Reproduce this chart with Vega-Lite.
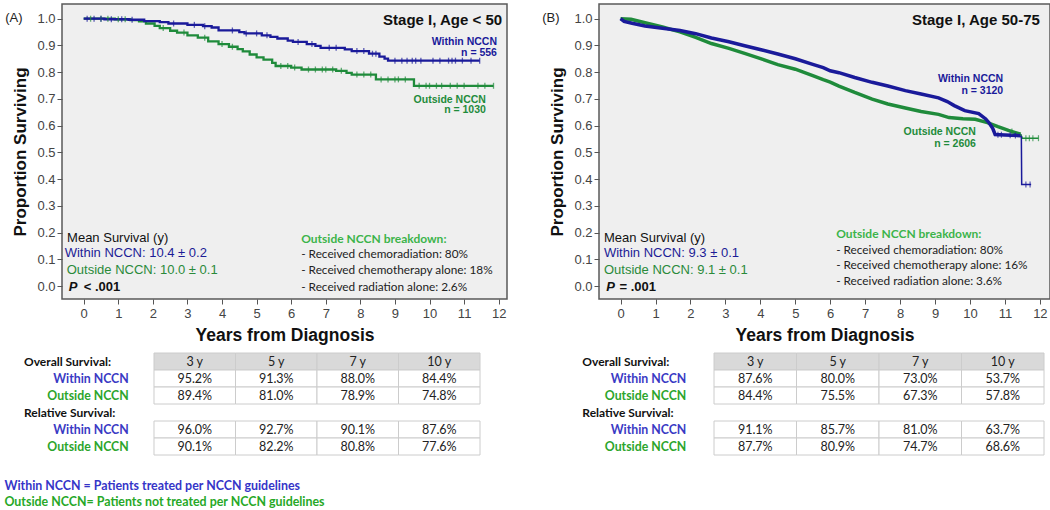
{
"$schema":"https://vega.github.io/schema/vega-lite/v6.json",
"padding":{"left":4,"top":3,"right":0,"bottom":2},
"background":"#ffffff",
"columns":2,
"bounds":"flush",
"spacing":{"row":54,"column":92},
"resolve":{"scale":{"x":"independent","y":"independent","color":"independent"}},
"title":{"text":"Within NCCN  = Patients treated per NCCN guidelines","subtitle":"Outside NCCN= Patients not treated per NCCN guidelines","orient":"bottom","anchor":"start","frame":"bounds","offset":24,"font":"Lato","fontSize":12.4,"fontWeight":"bold","color":"#3535c8","subtitleFont":"Lato","subtitleFontSize":12.4,"subtitleFontWeight":"bold","subtitleColor":"#27a827","subtitlePadding":4},
"config":{
 "view":{"stroke":null},
 "text":{"font":"Liberation Sans"},
 "axis":{"grid":false,"domain":false,"labelOverlap":false,"labelFlush":false,"labelFont":"Liberation Sans","labelFontSize":13,"labelColor":"#444444","tickColor":"#555555","tickSize":5,"titleFont":"Liberation Sans","titleFontWeight":"bold","titleColor":"#111111"},
 "axisX":{"labelPadding":3,"titlePadding":6,"titleFontSize":17.5},
 "axisY":{"labelPadding":2,"titlePadding":7,"titleFontSize":17}
},
"datasets":{
 "kmA":[
  {"g":"Outside NCCN","t":0,"s":1.0},{"g":"Outside NCCN","t":0.9,"s":0.998},{"g":"Outside NCCN","t":1.35,"s":0.995},{"g":"Outside NCCN","t":1.6,"s":0.99},{"g":"Outside NCCN","t":1.8,"s":0.982},{"g":"Outside NCCN","t":2.05,"s":0.973},{"g":"Outside NCCN","t":2.2,"s":0.965},{"g":"Outside NCCN","t":2.5,"s":0.955},{"g":"Outside NCCN","t":2.7,"s":0.948},{"g":"Outside NCCN","t":3.0,"s":0.938},{"g":"Outside NCCN","t":3.3,"s":0.929},{"g":"Outside NCCN","t":3.6,"s":0.915},{"g":"Outside NCCN","t":3.9,"s":0.905},{"g":"Outside NCCN","t":4.2,"s":0.895},{"g":"Outside NCCN","t":4.45,"s":0.886},{"g":"Outside NCCN","t":4.6,"s":0.878},{"g":"Outside NCCN","t":4.8,"s":0.866},{"g":"Outside NCCN","t":5.0,"s":0.855},{"g":"Outside NCCN","t":5.2,"s":0.847},{"g":"Outside NCCN","t":5.45,"s":0.835},{"g":"Outside NCCN","t":5.55,"s":0.823},{"g":"Outside NCCN","t":6.0,"s":0.817},{"g":"Outside NCCN","t":6.3,"s":0.81},{"g":"Outside NCCN","t":7.3,"s":0.805},{"g":"Outside NCCN","t":7.6,"s":0.797},{"g":"Outside NCCN","t":7.75,"s":0.791},{"g":"Outside NCCN","t":8.45,"s":0.773},{"g":"Outside NCCN","t":9.55,"s":0.749},{"g":"Outside NCCN","t":11.85,"s":0.749},
  {"g":"Within NCCN","t":0,"s":1.0},{"g":"Within NCCN","t":0.6,"s":0.998},{"g":"Within NCCN","t":1.3,"s":0.996},{"g":"Within NCCN","t":1.75,"s":0.991},{"g":"Within NCCN","t":2.2,"s":0.987},{"g":"Within NCCN","t":2.45,"s":0.982},{"g":"Within NCCN","t":3.0,"s":0.977},{"g":"Within NCCN","t":3.45,"s":0.972},{"g":"Within NCCN","t":3.7,"s":0.967},{"g":"Within NCCN","t":3.9,"s":0.956},{"g":"Within NCCN","t":4.5,"s":0.95},{"g":"Within NCCN","t":4.65,"s":0.945},{"g":"Within NCCN","t":5.15,"s":0.938},{"g":"Within NCCN","t":5.4,"s":0.932},{"g":"Within NCCN","t":5.6,"s":0.926},{"g":"Within NCCN","t":5.9,"s":0.918},{"g":"Within NCCN","t":6.05,"s":0.913},{"g":"Within NCCN","t":6.45,"s":0.905},{"g":"Within NCCN","t":6.7,"s":0.898},{"g":"Within NCCN","t":6.85,"s":0.891},{"g":"Within NCCN","t":7.55,"s":0.885},{"g":"Within NCCN","t":7.75,"s":0.879},{"g":"Within NCCN","t":8.25,"s":0.869},{"g":"Within NCCN","t":8.55,"s":0.858},{"g":"Within NCCN","t":8.7,"s":0.851},{"g":"Within NCCN","t":8.8,"s":0.843},{"g":"Within NCCN","t":11.45,"s":0.843}
 ],
 "cenA":[
  {"g":"Outside NCCN","t":0.2,"s":1.0},{"g":"Outside NCCN","t":0.5,"s":1.0},{"g":"Outside NCCN","t":0.7,"s":1.0},{"g":"Outside NCCN","t":1.0,"s":0.998},{"g":"Outside NCCN","t":1.2,"s":0.998},{"g":"Outside NCCN","t":2.3,"s":0.965},{"g":"Outside NCCN","t":2.9,"s":0.948},{"g":"Outside NCCN","t":3.5,"s":0.929},{"g":"Outside NCCN","t":4.0,"s":0.905},{"g":"Outside NCCN","t":4.3,"s":0.895},{"g":"Outside NCCN","t":5.7,"s":0.823},{"g":"Outside NCCN","t":5.9,"s":0.823},{"g":"Outside NCCN","t":6.1,"s":0.817},{"g":"Outside NCCN","t":6.5,"s":0.81},{"g":"Outside NCCN","t":6.7,"s":0.81},{"g":"Outside NCCN","t":6.9,"s":0.81},{"g":"Outside NCCN","t":7.0,"s":0.81},{"g":"Outside NCCN","t":7.2,"s":0.81},{"g":"Outside NCCN","t":7.45,"s":0.805},{"g":"Outside NCCN","t":7.9,"s":0.791},{"g":"Outside NCCN","t":8.1,"s":0.791},{"g":"Outside NCCN","t":8.3,"s":0.791},{"g":"Outside NCCN","t":8.6,"s":0.773},{"g":"Outside NCCN","t":8.8,"s":0.773},{"g":"Outside NCCN","t":9.0,"s":0.773},{"g":"Outside NCCN","t":9.1,"s":0.773},{"g":"Outside NCCN","t":9.3,"s":0.773},{"g":"Outside NCCN","t":9.7,"s":0.749},{"g":"Outside NCCN","t":9.9,"s":0.749},{"g":"Outside NCCN","t":10.0,"s":0.749},{"g":"Outside NCCN","t":10.2,"s":0.749},{"g":"Outside NCCN","t":10.35,"s":0.749},{"g":"Outside NCCN","t":10.6,"s":0.749},{"g":"Outside NCCN","t":10.8,"s":0.749},{"g":"Outside NCCN","t":11.0,"s":0.749},{"g":"Outside NCCN","t":11.4,"s":0.749},{"g":"Outside NCCN","t":11.6,"s":0.749},{"g":"Outside NCCN","t":11.85,"s":0.749},
  {"g":"Within NCCN","t":0.1,"s":1.0},{"g":"Within NCCN","t":0.3,"s":1.0},{"g":"Within NCCN","t":0.5,"s":1.0},{"g":"Within NCCN","t":0.8,"s":0.998},{"g":"Within NCCN","t":1.1,"s":0.998},{"g":"Within NCCN","t":1.4,"s":0.996},{"g":"Within NCCN","t":2.6,"s":0.982},{"g":"Within NCCN","t":3.2,"s":0.977},{"g":"Within NCCN","t":3.5,"s":0.972},{"g":"Within NCCN","t":4.3,"s":0.956},{"g":"Within NCCN","t":4.7,"s":0.945},{"g":"Within NCCN","t":5.0,"s":0.945},{"g":"Within NCCN","t":5.3,"s":0.938},{"g":"Within NCCN","t":6.2,"s":0.913},{"g":"Within NCCN","t":6.6,"s":0.905},{"g":"Within NCCN","t":7.1,"s":0.891},{"g":"Within NCCN","t":7.3,"s":0.891},{"g":"Within NCCN","t":7.9,"s":0.879},{"g":"Within NCCN","t":8.1,"s":0.879},{"g":"Within NCCN","t":8.35,"s":0.869},{"g":"Within NCCN","t":8.45,"s":0.869},{"g":"Within NCCN","t":9.0,"s":0.843},{"g":"Within NCCN","t":9.2,"s":0.843},{"g":"Within NCCN","t":9.35,"s":0.843},{"g":"Within NCCN","t":9.5,"s":0.843},{"g":"Within NCCN","t":9.6,"s":0.843},{"g":"Within NCCN","t":9.75,"s":0.843},{"g":"Within NCCN","t":10.1,"s":0.843},{"g":"Within NCCN","t":10.3,"s":0.843},{"g":"Within NCCN","t":10.55,"s":0.843},{"g":"Within NCCN","t":10.65,"s":0.843},{"g":"Within NCCN","t":10.75,"s":0.843},{"g":"Within NCCN","t":10.95,"s":0.843},{"g":"Within NCCN","t":11.2,"s":0.843},{"g":"Within NCCN","t":11.45,"s":0.843}
 ],
 "kmB":[
  {"g":"Outside NCCN","t":0,"s":1.0},{"g":"Outside NCCN","t":0.3,"s":0.998},{"g":"Outside NCCN","t":0.7,"s":0.985},{"g":"Outside NCCN","t":1.2,"s":0.969},{"g":"Outside NCCN","t":1.7,"s":0.951},{"g":"Outside NCCN","t":2.15,"s":0.93},{"g":"Outside NCCN","t":2.6,"s":0.907},{"g":"Outside NCCN","t":3.1,"s":0.889},{"g":"Outside NCCN","t":3.55,"s":0.87},{"g":"Outside NCCN","t":4.05,"s":0.849},{"g":"Outside NCCN","t":4.5,"s":0.828},{"g":"Outside NCCN","t":5.0,"s":0.811},{"g":"Outside NCCN","t":5.5,"s":0.787},{"g":"Outside NCCN","t":5.8,"s":0.772},{"g":"Outside NCCN","t":6.0,"s":0.763},{"g":"Outside NCCN","t":6.25,"s":0.748},{"g":"Outside NCCN","t":6.7,"s":0.724},{"g":"Outside NCCN","t":7.2,"s":0.699},{"g":"Outside NCCN","t":7.65,"s":0.681},{"g":"Outside NCCN","t":8.15,"s":0.666},{"g":"Outside NCCN","t":8.6,"s":0.653},{"g":"Outside NCCN","t":9.1,"s":0.642},{"g":"Outside NCCN","t":9.4,"s":0.63},{"g":"Outside NCCN","t":9.8,"s":0.626},{"g":"Outside NCCN","t":10.15,"s":0.624},{"g":"Outside NCCN","t":10.5,"s":0.611},{"g":"Outside NCCN","t":10.8,"s":0.596},{"g":"Outside NCCN","t":11.1,"s":0.582},{"g":"Outside NCCN","t":11.3,"s":0.574},{"g":"Outside NCCN","t":11.45,"s":0.568},{"g":"Outside NCCN","t":11.5,"s":0.553},{"g":"Outside NCCN","t":11.96,"s":0.553},
  {"g":"Within NCCN","t":0,"s":1.0},{"g":"Within NCCN","t":0.1,"s":0.99},{"g":"Within NCCN","t":0.33,"s":0.983},{"g":"Within NCCN","t":0.7,"s":0.973},{"g":"Within NCCN","t":1.2,"s":0.964},{"g":"Within NCCN","t":1.7,"s":0.956},{"g":"Within NCCN","t":2.15,"s":0.944},{"g":"Within NCCN","t":2.6,"s":0.928},{"g":"Within NCCN","t":3.1,"s":0.914},{"g":"Within NCCN","t":3.55,"s":0.899},{"g":"Within NCCN","t":4.05,"s":0.883},{"g":"Within NCCN","t":4.5,"s":0.868},{"g":"Within NCCN","t":5.0,"s":0.85},{"g":"Within NCCN","t":5.5,"s":0.829},{"g":"Within NCCN","t":5.8,"s":0.817},{"g":"Within NCCN","t":6.0,"s":0.805},{"g":"Within NCCN","t":6.25,"s":0.798},{"g":"Within NCCN","t":6.7,"s":0.78},{"g":"Within NCCN","t":7.2,"s":0.762},{"g":"Within NCCN","t":7.65,"s":0.748},{"g":"Within NCCN","t":8.15,"s":0.731},{"g":"Within NCCN","t":8.6,"s":0.718},{"g":"Within NCCN","t":9.1,"s":0.704},{"g":"Within NCCN","t":9.35,"s":0.69},{"g":"Within NCCN","t":9.55,"s":0.675},{"g":"Within NCCN","t":9.85,"s":0.656},{"g":"Within NCCN","t":10.25,"s":0.645},{"g":"Within NCCN","t":10.45,"s":0.625},{"g":"Within NCCN","t":10.55,"s":0.61},{"g":"Within NCCN","t":10.65,"s":0.59},{"g":"Within NCCN","t":10.72,"s":0.567},{"g":"Within NCCN","t":11.0,"s":0.565},{"g":"Within NCCN","t":11.47,"s":0.562},{"g":"Within NCCN","t":11.48,"s":0.38},{"g":"Within NCCN","t":11.75,"s":0.38}
 ],
 "cenB":[
  {"g":"Outside NCCN","t":11.2,"s":0.578},{"g":"Outside NCCN","t":11.6,"s":0.553},{"g":"Outside NCCN","t":11.7,"s":0.553},{"g":"Outside NCCN","t":11.8,"s":0.553},{"g":"Outside NCCN","t":11.96,"s":0.553},
  {"g":"Within NCCN","t":10.8,"s":0.566},{"g":"Within NCCN","t":10.9,"s":0.566},{"g":"Within NCCN","t":11.15,"s":0.564},{"g":"Within NCCN","t":11.3,"s":0.563},{"g":"Within NCCN","t":11.6,"s":0.38},{"g":"Within NCCN","t":11.72,"s":0.38}
 ],
 "tabA":[
  {"row":"hdr","col":"3 y","v":"3 y"},{"row":"hdr","col":"5 y","v":"5 y"},{"row":"hdr","col":"7 y","v":"7 y"},{"row":"hdr","col":"10 y","v":"10 y"},
  {"row":"os_w","col":"3 y","v":"95.2%"},{"row":"os_w","col":"5 y","v":"91.3%"},{"row":"os_w","col":"7 y","v":"88.0%"},{"row":"os_w","col":"10 y","v":"84.4%"},
  {"row":"os_o","col":"3 y","v":"89.4%"},{"row":"os_o","col":"5 y","v":"81.0%"},{"row":"os_o","col":"7 y","v":"78.9%"},{"row":"os_o","col":"10 y","v":"74.8%"},
  {"row":"rs_w","col":"3 y","v":"96.0%"},{"row":"rs_w","col":"5 y","v":"92.7%"},{"row":"rs_w","col":"7 y","v":"90.1%"},{"row":"rs_w","col":"10 y","v":"87.6%"},
  {"row":"rs_o","col":"3 y","v":"90.1%"},{"row":"rs_o","col":"5 y","v":"82.2%"},{"row":"rs_o","col":"7 y","v":"80.8%"},{"row":"rs_o","col":"10 y","v":"77.6%"}
 ],
 "tabB":[
  {"row":"hdr","col":"3 y","v":"3 y"},{"row":"hdr","col":"5 y","v":"5 y"},{"row":"hdr","col":"7 y","v":"7 y"},{"row":"hdr","col":"10 y","v":"10 y"},
  {"row":"os_w","col":"3 y","v":"87.6%"},{"row":"os_w","col":"5 y","v":"80.0%"},{"row":"os_w","col":"7 y","v":"73.0%"},{"row":"os_w","col":"10 y","v":"53.7%"},
  {"row":"os_o","col":"3 y","v":"84.4%"},{"row":"os_o","col":"5 y","v":"75.5%"},{"row":"os_o","col":"7 y","v":"67.3%"},{"row":"os_o","col":"10 y","v":"57.8%"},
  {"row":"rs_w","col":"3 y","v":"91.1%"},{"row":"rs_w","col":"5 y","v":"85.7%"},{"row":"rs_w","col":"7 y","v":"81.0%"},{"row":"rs_w","col":"10 y","v":"63.7%"},
  {"row":"rs_o","col":"3 y","v":"87.7%"},{"row":"rs_o","col":"5 y","v":"80.9%"},{"row":"rs_o","col":"7 y","v":"74.7%"},{"row":"rs_o","col":"10 y","v":"68.6%"}
 ],
 "lbl":[
  {"row":"hdr","col":"label","kind":"sec","g":"","text":"Overall Survival:"},
  {"row":"rs","col":"label","kind":"sec","g":"","text":"Relative Survival:"},
  {"row":"os_w","col":"label","kind":"grp","g":"Within NCCN","text":"Within NCCN"},
  {"row":"os_o","col":"label","kind":"grp","g":"Outside NCCN","text":"Outside NCCN"},
  {"row":"rs_w","col":"label","kind":"grp","g":"Within NCCN","text":"Within NCCN"},
  {"row":"rs_o","col":"label","kind":"grp","g":"Outside NCCN","text":"Outside NCCN"}
 ]
},
"concat":[
 {
  "width":445,"height":295,
  "view":{"fill":"#efefef","stroke":"#5a5a5a","strokeWidth":1.5},
  "layer":[
   {"data":{"name":"kmA"},"mark":{"type":"line","interpolate":"step-after","strokeWidth":2.3},
    "encoding":{
     "x":{"field":"t","type":"quantitative","scale":{"domain":[-0.627,12.24],"nice":false,"zero":false},"axis":{"values":[0,1,2,3,4,5,6,7,8,9,10,11,12],"labelOverlap":false,"tickCount":13,"title":"Years from Diagnosis"}},
     "y":{"field":"s","type":"quantitative","scale":{"domain":[-0.0486,1.055],"nice":false,"zero":false},"axis":{"values":[0,0.1,0.2,0.3,0.4,0.5,0.6,0.7,0.8,0.9,1],"labelOverlap":false,"tickCount":11,"format":".1f","title":"Proportion Surviving"}},
     "color":{"field":"g","type":"nominal","scale":{"domain":["Within NCCN","Outside NCCN"],"range":["#1a1a9a","#1f8b3b"]},"legend":null}}},
   {"data":{"name":"cenA"},"mark":{"type":"tick","orient":"vertical","size":6,"thickness":1.3},
    "encoding":{"x":{"field":"t","type":"quantitative"},"y":{"field":"s","type":"quantitative"},"color":{"field":"g","type":"nominal","legend":null}}},
   {"data":{"values":[{}]},"mark":{"type":"text","text":"(A)","align":"left","baseline":"middle","fontSize":13,"color":"#222222"},"encoding":{"x":{"datum":-2.27,"type":"quantitative"},"y":{"datum":1.004,"type":"quantitative"}}},
   {"data":{"values":[{}]},"mark":{"type":"text","text":"Stage I, Age < 50","align":"right","baseline":"middle","fontSize":15,"fontWeight":"bold","color":"#111111"},"encoding":{"x":{"datum":12.1,"type":"quantitative"},"y":{"datum":0.995,"type":"quantitative"}}},
   {"data":{"values":[{}]},"mark":{"type":"text","text":"Within NCCN","align":"right","baseline":"middle","fontSize":10.5,"fontWeight":"bold","color":"#1a1a9a"},"encoding":{"x":{"datum":11.95,"type":"quantitative"},"y":{"datum":0.912,"type":"quantitative"}}},
   {"data":{"values":[{}]},"mark":{"type":"text","text":"n = 556","align":"right","baseline":"middle","fontSize":10.5,"fontWeight":"bold","color":"#1a1a9a"},"encoding":{"x":{"datum":11.95,"type":"quantitative"},"y":{"datum":0.873,"type":"quantitative"}}},
   {"data":{"values":[{}]},"mark":{"type":"text","text":"Outside NCCN","align":"right","baseline":"middle","fontSize":10.5,"fontWeight":"bold","color":"#1f8b3b"},"encoding":{"x":{"datum":11.63,"type":"quantitative"},"y":{"datum":0.697,"type":"quantitative"}}},
   {"data":{"values":[{}]},"mark":{"type":"text","text":"n = 1030","align":"right","baseline":"middle","fontSize":10.5,"fontWeight":"bold","color":"#1f8b3b"},"encoding":{"x":{"datum":11.63,"type":"quantitative"},"y":{"datum":0.657,"type":"quantitative"}}},
   {"data":{"values":[{}]},"mark":{"type":"text","text":"Mean Survival (y)","align":"left","baseline":"middle","fontSize":13,"color":"#111111"},"encoding":{"x":{"datum":-0.48,"type":"quantitative"},"y":{"datum":0.181,"type":"quantitative"}}},
   {"data":{"values":[{}]},"mark":{"type":"text","text":"Within NCCN: 10.4 ± 0.2","align":"left","baseline":"middle","fontSize":13,"color":"#1c1c96"},"encoding":{"x":{"datum":-0.55,"type":"quantitative"},"y":{"datum":0.125,"type":"quantitative"}}},
   {"data":{"values":[{}]},"mark":{"type":"text","text":"Outside NCCN: 10.0 ± 0.1","align":"left","baseline":"middle","fontSize":13,"color":"#2a8a3a"},"encoding":{"x":{"datum":-0.49,"type":"quantitative"},"y":{"datum":0.06,"type":"quantitative"}}},
   {"data":{"values":[{}]},"mark":{"type":"text","text":"P","align":"left","baseline":"middle","fontSize":13,"fontWeight":"bold","fontStyle":"italic","color":"#111111"},"encoding":{"x":{"datum":-0.434,"type":"quantitative"},"y":{"datum":-0.003,"type":"quantitative"}}},
   {"data":{"values":[{}]},"mark":{"type":"text","text":"< .001","align":"left","baseline":"middle","fontSize":13,"fontWeight":"bold","color":"#111111"},"encoding":{"x":{"datum":0.0,"type":"quantitative"},"y":{"datum":-0.003,"type":"quantitative"}}},
   {"data":{"values":[{}]},"mark":{"type":"text","text":"Outside NCCN breakdown:","align":"left","baseline":"middle","font":"Lato","fontSize":12,"fontWeight":"bold","color":"#3cb44a"},"encoding":{"x":{"datum":6.29,"type":"quantitative"},"y":{"datum":0.177,"type":"quantitative"}}},
   {"data":{"values":[{}]},"mark":{"type":"text","text":"- Received chemoradiation: 80%","align":"left","baseline":"middle","font":"Lato","fontSize":11.8,"color":"#222222"},"encoding":{"x":{"datum":6.29,"type":"quantitative"},"y":{"datum":0.119,"type":"quantitative"}}},
   {"data":{"values":[{}]},"mark":{"type":"text","text":"- Received chemotherapy alone: 18%","align":"left","baseline":"middle","font":"Lato","fontSize":11.8,"color":"#222222"},"encoding":{"x":{"datum":6.29,"type":"quantitative"},"y":{"datum":0.06,"type":"quantitative"}}},
   {"data":{"values":[{}]},"mark":{"type":"text","text":"- Received radiation alone: 2.6%","align":"left","baseline":"middle","font":"Lato","fontSize":11.8,"color":"#222222"},"encoding":{"x":{"datum":6.29,"type":"quantitative"},"y":{"datum":-0.003,"type":"quantitative"}}}
  ]
 },
 {
  "width":451,"height":295,
  "view":{"fill":"#efefef","stroke":"#5a5a5a","strokeWidth":1.5},
  "layer":[
   {"data":{"name":"kmB"},"transform":[{"filter":"datum.t <= 11.47"}],"mark":{"type":"line","interpolate":"linear","strokeWidth":3.5},
    "encoding":{
     "x":{"field":"t","type":"quantitative","scale":{"domain":[-0.617,12.29],"nice":false,"zero":false},"axis":{"values":[0,1,2,3,4,5,6,7,8,9,10,11,12],"labelOverlap":false,"tickCount":13,"title":"Years from Diagnosis"}},
     "y":{"field":"s","type":"quantitative","scale":{"domain":[-0.0486,1.055],"nice":false,"zero":false},"axis":{"values":[0,0.1,0.2,0.3,0.4,0.5,0.6,0.7,0.8,0.9,1],"labelOverlap":false,"tickCount":11,"format":".1f","title":"Proportion Surviving"}},
     "color":{"field":"g","type":"nominal","scale":{"domain":["Within NCCN","Outside NCCN"],"range":["#1a1a9a","#1f8b3b"]},"legend":null}}},
   {"data":{"name":"kmB"},"transform":[{"filter":"datum.t >= 11.4"}],"mark":{"type":"line","interpolate":"linear","strokeWidth":1.5},
    "encoding":{"x":{"field":"t","type":"quantitative"},"y":{"field":"s","type":"quantitative"},"color":{"field":"g","type":"nominal","legend":null}}},
   {"data":{"name":"cenB"},"mark":{"type":"tick","orient":"vertical","size":6,"thickness":1.2},
    "encoding":{"x":{"field":"t","type":"quantitative"},"y":{"field":"s","type":"quantitative"},"color":{"field":"g","type":"nominal","legend":null}}},
   {"data":{"values":[{}]},"mark":{"type":"text","text":"(B)","align":"left","baseline":"middle","fontSize":13,"color":"#222222"},"encoding":{"x":{"datum":-2.24,"type":"quantitative"},"y":{"datum":1.004,"type":"quantitative"}}},
   {"data":{"values":[{}]},"mark":{"type":"text","text":"Stage I, Age 50-75","align":"right","baseline":"middle","fontSize":15,"fontWeight":"bold","color":"#111111"},"encoding":{"x":{"datum":12.0,"type":"quantitative"},"y":{"datum":0.995,"type":"quantitative"}}},
   {"data":{"values":[{}]},"mark":{"type":"text","text":"Within NCCN","align":"right","baseline":"middle","fontSize":10.5,"fontWeight":"bold","color":"#1a1a9a"},"encoding":{"x":{"datum":10.95,"type":"quantitative"},"y":{"datum":0.775,"type":"quantitative"}}},
   {"data":{"values":[{}]},"mark":{"type":"text","text":"n = 3120","align":"right","baseline":"middle","fontSize":10.5,"fontWeight":"bold","color":"#1a1a9a"},"encoding":{"x":{"datum":10.95,"type":"quantitative"},"y":{"datum":0.729,"type":"quantitative"}}},
   {"data":{"values":[{}]},"mark":{"type":"text","text":"Outside NCCN","align":"right","baseline":"middle","fontSize":10.5,"fontWeight":"bold","color":"#1f8b3b"},"encoding":{"x":{"datum":10.17,"type":"quantitative"},"y":{"datum":0.576,"type":"quantitative"}}},
   {"data":{"values":[{}]},"mark":{"type":"text","text":"n = 2606","align":"right","baseline":"middle","fontSize":10.5,"fontWeight":"bold","color":"#1f8b3b"},"encoding":{"x":{"datum":10.17,"type":"quantitative"},"y":{"datum":0.53,"type":"quantitative"}}},
   {"data":{"values":[{}]},"mark":{"type":"text","text":"Mean Survival (y)","align":"left","baseline":"middle","fontSize":13,"color":"#111111"},"encoding":{"x":{"datum":-0.475,"type":"quantitative"},"y":{"datum":0.181,"type":"quantitative"}}},
   {"data":{"values":[{}]},"mark":{"type":"text","text":"Within NCCN: 9.3 ± 0.1","align":"left","baseline":"middle","fontSize":13,"color":"#1c1c96"},"encoding":{"x":{"datum":-0.475,"type":"quantitative"},"y":{"datum":0.125,"type":"quantitative"}}},
   {"data":{"values":[{}]},"mark":{"type":"text","text":"Outside NCCN: 9.1 ± 0.1","align":"left","baseline":"middle","fontSize":13,"color":"#2a8a3a"},"encoding":{"x":{"datum":-0.475,"type":"quantitative"},"y":{"datum":0.059,"type":"quantitative"}}},
   {"data":{"values":[{}]},"mark":{"type":"text","text":"P","align":"left","baseline":"middle","fontSize":13,"fontWeight":"bold","fontStyle":"italic","color":"#111111"},"encoding":{"x":{"datum":-0.41,"type":"quantitative"},"y":{"datum":-0.002,"type":"quantitative"}}},
   {"data":{"values":[{}]},"mark":{"type":"text","text":"= .001","align":"left","baseline":"middle","fontSize":13,"fontWeight":"bold","color":"#111111"},"encoding":{"x":{"datum":-0.03,"type":"quantitative"},"y":{"datum":-0.002,"type":"quantitative"}}},
   {"data":{"values":[{}]},"mark":{"type":"text","text":"Outside NCCN breakdown:","align":"left","baseline":"middle","font":"Lato","fontSize":12,"fontWeight":"bold","color":"#3cb44a"},"encoding":{"x":{"datum":6.17,"type":"quantitative"},"y":{"datum":0.196,"type":"quantitative"}}},
   {"data":{"values":[{}]},"mark":{"type":"text","text":"- Received chemoradiation: 80%","align":"left","baseline":"middle","font":"Lato","fontSize":11.8,"color":"#222222"},"encoding":{"x":{"datum":6.17,"type":"quantitative"},"y":{"datum":0.135,"type":"quantitative"}}},
   {"data":{"values":[{}]},"mark":{"type":"text","text":"- Received chemotherapy alone: 16%","align":"left","baseline":"middle","font":"Lato","fontSize":11.8,"color":"#222222"},"encoding":{"x":{"datum":6.17,"type":"quantitative"},"y":{"datum":0.077,"type":"quantitative"}}},
   {"data":{"values":[{}]},"mark":{"type":"text","text":"- Received radiation alone: 3.6%","align":"left","baseline":"middle","font":"Lato","fontSize":11.8,"color":"#222222"},"encoding":{"x":{"datum":6.17,"type":"quantitative"},"y":{"datum":0.019,"type":"quantitative"}}}
  ]
 },
 {
  "width":418,"height":102,
  "encoding":{
   "x":{"field":"col","type":"nominal","scale":{"domain":["label","3 y","5 y","7 y","10 y"],"paddingInner":0,"paddingOuter":0.0644,"align":1},"axis":null},
   "y":{"field":"row","type":"nominal","scale":{"domain":["hdr","os_w","os_o","rs","rs_w","rs_o"],"paddingInner":0,"paddingOuter":0},"axis":null}
  },
  "layer":[
   {"data":{"name":"tabA"},"mark":{"type":"rect","stroke":"#cccccc","strokeWidth":1},"encoding":{"fill":{"condition":{"test":"datum.row === 'hdr'","value":"#d9d9d9"},"value":"#ffffff"}}},
   {"data":{"name":"tabA"},"mark":{"type":"text","font":"Lato","fontSize":12.5,"color":"#222222"},"encoding":{"text":{"field":"v"}}},
   {"data":{"name":"lbl"},"transform":[{"filter":"datum.kind === 'sec'"}],"mark":{"type":"text","align":"left","font":"Lato","fontWeight":"bold","fontSize":12,"color":"#111111"},"encoding":{"x":{"field":"col","type":"nominal","bandPosition":-0.595},"text":{"field":"text"}}},
   {"data":{"name":"lbl"},"transform":[{"filter":"datum.kind === 'grp'"}],"mark":{"type":"text","align":"right","font":"Lato","fontWeight":"bold","fontSize":12.3},"encoding":{"x":{"field":"col","type":"nominal","bandPosition":0.69},"text":{"field":"text"},"color":{"field":"g","type":"nominal","scale":{"domain":["Within NCCN","Outside NCCN"],"range":["#3a3ac4","#2ca52c"]},"legend":null}}}
  ]
 },
 {
  "width":445,"height":102,
  "encoding":{
   "x":{"field":"col","type":"nominal","scale":{"domain":["label","3 y","5 y","7 y","10 y"],"paddingInner":0,"paddingOuter":0.197,"align":1},"axis":null},
   "y":{"field":"row","type":"nominal","scale":{"domain":["hdr","os_w","os_o","rs","rs_w","rs_o"],"paddingInner":0,"paddingOuter":0},"axis":null}
  },
  "layer":[
   {"data":{"name":"tabB"},"mark":{"type":"rect","stroke":"#cccccc","strokeWidth":1},"encoding":{"fill":{"condition":{"test":"datum.row === 'hdr'","value":"#d9d9d9"},"value":"#ffffff"}}},
   {"data":{"name":"tabB"},"mark":{"type":"text","font":"Lato","fontSize":12.5,"color":"#222222"},"encoding":{"text":{"field":"v"}}},
   {"data":{"name":"lbl"},"transform":[{"filter":"datum.kind === 'sec'"}],"mark":{"type":"text","align":"left","font":"Lato","fontWeight":"bold","fontSize":12,"color":"#111111"},"encoding":{"x":{"field":"col","type":"nominal","bandPosition":-0.596},"text":{"field":"text"}}},
   {"data":{"name":"lbl"},"transform":[{"filter":"datum.kind === 'grp'"}],"mark":{"type":"text","align":"right","font":"Lato","fontWeight":"bold","fontSize":12.3},"encoding":{"x":{"field":"col","type":"nominal","bandPosition":0.664},"text":{"field":"text"},"color":{"field":"g","type":"nominal","scale":{"domain":["Within NCCN","Outside NCCN"],"range":["#3a3ac4","#2ca52c"]},"legend":null}}}
  ]
 }
]
}
